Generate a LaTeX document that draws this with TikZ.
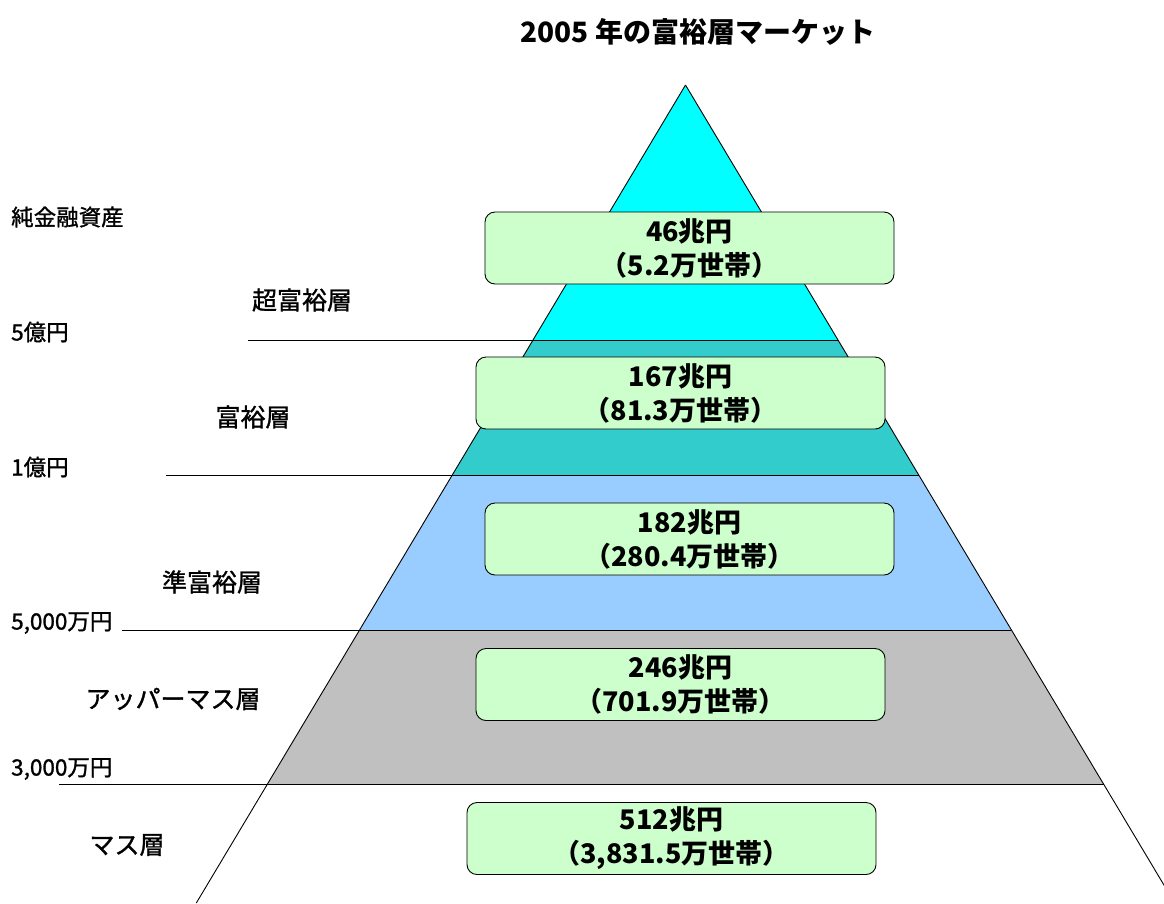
\documentclass[tikz,border=0pt]{standalone}
\usepackage{fontspec}
\newfontfamily\jp{Noto Sans CJK JP}
\newfontfamily\jpm[FakeBold=1.2]{Noto Sans CJK JP}
\usetikzlibrary{calc}
\definecolor{topcyan}{HTML}{00FFFF}
\definecolor{teal2}{HTML}{33CCCC}
\definecolor{lblue}{HTML}{99CCFF}
\definecolor{lgrey}{HTML}{C0C0C0}
\definecolor{boxgreen}{HTML}{CCFFCC}
\tikzset{
  valbox/.style={draw=black, line width=0.9pt, fill=boxgreen, rounded corners=10pt,
    minimum width=409pt, minimum height=72pt, align=center, inner sep=0pt,
    font=\jp\bfseries\fontsize{27}{34}\selectfont},
  tier/.style={font=\jpm\fontsize{25}{29}\selectfont, inner sep=0pt},
  amount/.style={font=\jpm\fontsize{22.5}{26}\selectfont, inner sep=0pt, anchor=west},
  edge/.style={line width=0.9pt, draw=black},
  sep/.style={line width=1pt, draw=black}
}
\begin{document}
\begin{tikzpicture}[x=1pt,y=-1pt]
\useasboundingbox (0,0) rectangle (1164,903);
\clip (0,0) rectangle (1164,903);
% pyramid points
\coordinate (A) at (685.5,85);
\coordinate (L1) at (533.0,340); \coordinate (R1) at (838.0,340);
\coordinate (L2) at (452.3,475); \coordinate (R2) at (918.7,475);
\coordinate (L3) at (359.6,630); \coordinate (R3) at (1011.4,630);
\coordinate (L4) at (267.5,784); \coordinate (R4) at (1103.5,784);
\coordinate (LB) at (196.3,903); \coordinate (RB) at (1174.7,903);
% fills
\fill[topcyan] (A) -- (L1) -- (R1) -- cycle;
\fill[teal2] (L1) -- (R1) -- (R2) -- (L2) -- cycle;
\fill[lblue] (L2) -- (R2) -- (R3) -- (L3) -- cycle;
\fill[lgrey] (L3) -- (R3) -- (R4) -- (L4) -- cycle;
% edges
\draw[edge] (A) -- (LB);
\draw[edge] (A) -- (RB);
% separator lines
\coordinate (S1) at (248,340);
\coordinate (S2) at (166,475);
\coordinate (S3) at (122,630);
\coordinate (S4) at (59,784);
\draw[sep] (S1) -- (R1);
\draw[sep] (S2) -- (R2);
\draw[sep] (S3) -- (R3);
\draw[sep] (S4) -- (R4);
% title
\node[font=\jp\bfseries\fontsize{28}{32}\selectfont, inner sep=0pt] (title) at (698,32) {2005 年の富裕層マーケット};
% left amount labels
\node[amount] (h0) at (11,217) {純金融資産};
\node[amount] (h1) at (11,332) {5億円};
\node[amount] (h2) at (11,467) {1億円};
\node[amount] (h3) at (11,623) {5,000万円};
\node[amount] (h4) at (11,769) {3,000万円};
% tier labels
\node[tier] (t1) at (302,300) {超富裕層};
\node[tier] (t2) at (253,417) {富裕層};
\node[tier] (t3) at (212,582) {準富裕層};
\node[tier] (t4) at (173,699) {アッパーマス層};
\node[tier] (t5) at (127,845) {マス層};
% value boxes
\node[valbox] (b1) at (689.5,248) {46兆円\\（5.2万世帯）};
\node[valbox] (b2) at (680.5,393) {167兆円\\（81.3万世帯）};
\node[valbox] (b3) at (689.5,539) {182兆円\\（280.4万世帯）};
\node[valbox] (b4) at (680.5,684.5) {246兆円\\（701.9万世帯）};
\node[valbox] (b5) at (671.5,838.5) {512兆円\\（3,831.5万世帯）};
\end{tikzpicture}
\end{document}
